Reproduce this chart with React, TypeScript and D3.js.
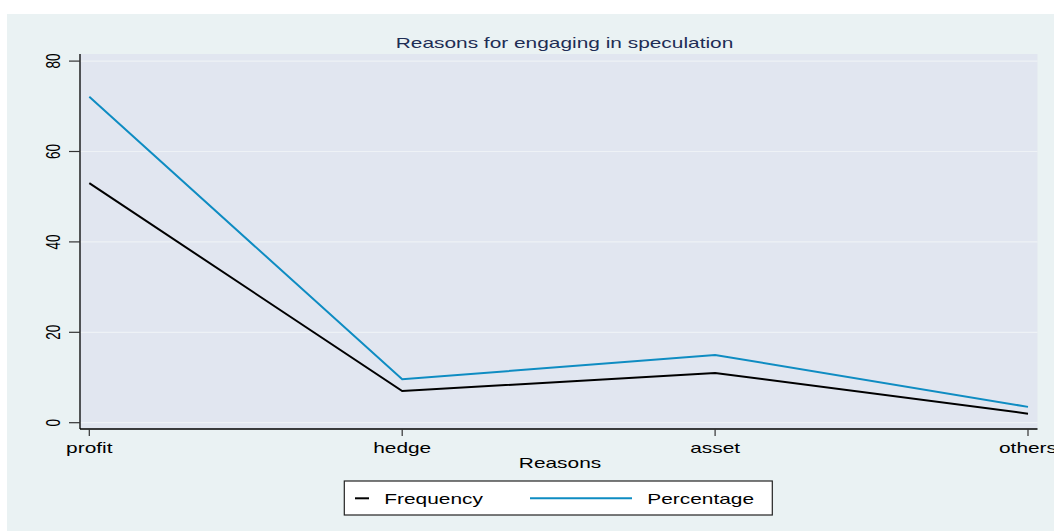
import React, { useEffect, useRef } from "react";
import * as d3 from "d3";

const categories = ["profit", "hedge", "asset", "others"];
const frequency = [53, 7, 11, 2];
const percentage = [72.1, 9.6, 15.0, 3.5];
const yTicks = [0, 20, 40, 60, 80];

const W = 1054;
const H = 531;
// text in the reference is stretched horizontally
const SX = 1.45;
const FONT = "'Liberation Sans', Arial, Helvetica, sans-serif";

export default function App() {
    const ref = useRef<SVGSVGElement | null>(null);

    useEffect(() => {
        document.body.style.margin = "0";

        const svg = d3.select(ref.current);
        svg.selectAll("*").remove();

        const plot = { left: 80, right: 1037.5, top: 54, bottom: 429 };

        const x = d3.scalePoint<string>().domain(categories).range([89.3, 1028]);
        const y = d3.scaleLinear().domain([0, 80]).range([422.7, 61.1]);

        svg.append("rect").attr("width", W).attr("height", H).attr("fill", "#ffffff");
        svg.append("rect")
            .attr("x", 7).attr("y", 14)
            .attr("width", W - 7).attr("height", H - 14)
            .attr("fill", "#EAF2F3");

        svg.append("rect")
            .attr("x", plot.left).attr("y", plot.top)
            .attr("width", plot.right - plot.left).attr("height", plot.bottom - plot.top)
            .attr("fill", "#E1E6F0");

        // grid
        svg.append("g")
            .selectAll("line")
            .data(yTicks)
            .join("line")
            .attr("x1", plot.left).attr("x2", plot.right)
            .attr("y1", (d) => y(d)).attr("y2", (d) => y(d))
            .attr("stroke", "#EEF2F6")
            .attr("stroke-width", 1.2);

        // lines
        const line = d3.line<number>()
            .x((_, i) => x(categories[i]) as number)
            .y((d) => y(d));

        svg.append("path")
            .datum(frequency)
            .attr("d", line)
            .attr("fill", "none")
            .attr("stroke", "#000000")
            .attr("stroke-width", 2);

        svg.append("path")
            .datum(percentage)
            .attr("d", line)
            .attr("fill", "none")
            .attr("stroke", "#0E8CC2")
            .attr("stroke-width", 2);

        // axes
        svg.append("line")
            .attr("x1", plot.left).attr("x2", plot.left)
            .attr("y1", plot.top).attr("y2", plot.bottom)
            .attr("stroke", "#000").attr("stroke-width", 1.3);
        svg.append("line")
            .attr("x1", plot.left).attr("x2", plot.right)
            .attr("y1", plot.bottom).attr("y2", plot.bottom)
            .attr("stroke", "#000").attr("stroke-width", 1.3);

        // y ticks
        const yt = svg.append("g");
        yt.selectAll("line")
            .data(yTicks)
            .join("line")
            .attr("x1", 69).attr("x2", plot.left)
            .attr("y1", (d) => y(d)).attr("y2", (d) => y(d))
            .attr("stroke", "#333").attr("stroke-width", 1.2);
        yt.selectAll("text")
            .data(yTicks)
            .join("text")
            .attr("transform", (d) => `translate(60,${y(d)}) scale(${SX},1) rotate(-90)`)
            .attr("text-anchor", "middle")
            .attr("font-family", FONT)
            .attr("font-size", 13.5)
            .attr("fill", "#000")
            .text((d) => d);

        // x ticks
        const xt = svg.append("g");
        xt.selectAll("line")
            .data(categories)
            .join("line")
            .attr("x1", (d) => x(d) as number).attr("x2", (d) => x(d) as number)
            .attr("y1", plot.bottom).attr("y2", 436)
            .attr("stroke", "#333").attr("stroke-width", 1.2);
        xt.selectAll("text")
            .data(categories)
            .join("text")
            .attr("transform", (d) => `translate(${x(d)},453) scale(${SX},1)`)
            .attr("text-anchor", "middle")
            .attr("font-family", FONT)
            .attr("font-size", 14.4)
            .attr("fill", "#000")
            .text((d) => d);

        // axis title
        svg.append("text")
            .attr("transform", `translate(560,468) scale(${SX},1)`)
            .attr("text-anchor", "middle")
            .attr("font-family", FONT)
            .attr("font-size", 14.4)
            .attr("fill", "#000")
            .text("Reasons");

        // title
        svg.append("text")
            .attr("transform", `translate(564.5,47.5) scale(${SX},1)`)
            .attr("text-anchor", "middle")
            .attr("font-family", FONT)
            .attr("font-size", 14.4)
            .attr("fill", "#1E2D55")
            .text("Reasons for engaging in speculation");

        // legend
        const lg = svg.append("g");
        lg.append("rect")
            .attr("x", 344.3).attr("y", 481)
            .attr("width", 428).attr("height", 34)
            .attr("fill", "#fff")
            .attr("stroke", "#222").attr("stroke-width", 1.2);

        const legendItems = [
            { name: "Frequency", color: "#000000", x1: 355, x2: 369, tx: 384.3 },
            { name: "Percentage", color: "#0E8CC2", x1: 530, x2: 632, tx: 647.3 },
        ];
        legendItems.forEach((it) => {
            lg.append("line")
                .attr("x1", it.x1).attr("x2", it.x2)
                .attr("y1", 498.3).attr("y2", 498.3)
                .attr("stroke", it.color).attr("stroke-width", 2);
            lg.append("text")
                .attr("transform", `translate(${it.tx},504) scale(${SX},1)`)
                .attr("font-family", FONT)
                .attr("font-size", 14.4)
                .attr("fill", "#000")
                .text(it.name);
        });
    }, []);

    return (
        <div style={{ position: "absolute", left: 0, top: 0 }}>
            <svg ref={ref} width={W} height={H} style={{ display: "block" }}></svg>
        </div>
    );
}
